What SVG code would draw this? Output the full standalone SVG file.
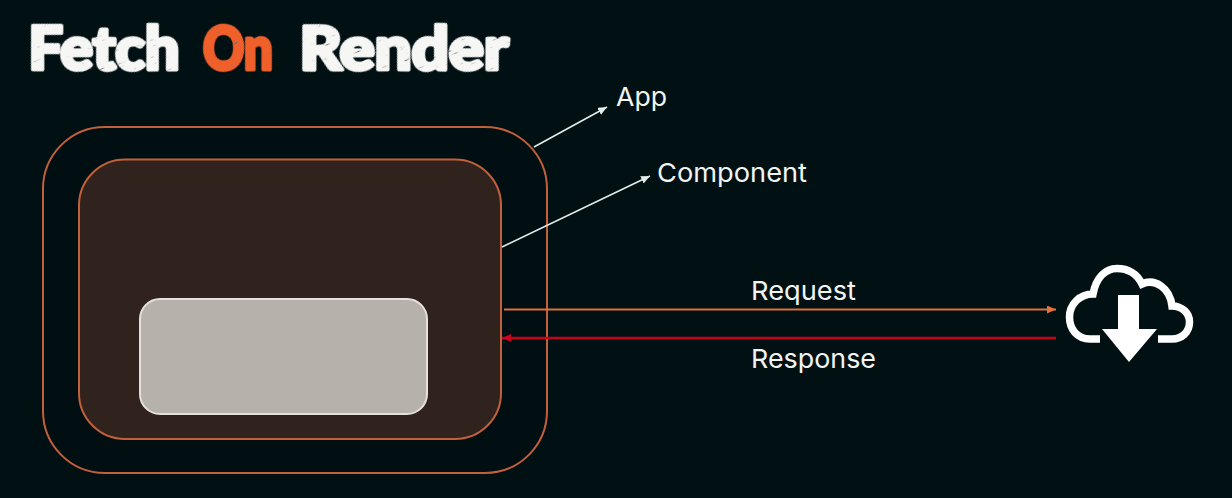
<svg xmlns="http://www.w3.org/2000/svg" width="1232" height="498" viewBox="0 0 1232 498">
<style>
.t{font-family:"Lato","Liberation Sans",sans-serif;font-weight:900;font-size:60px;stroke-width:4px;stroke-linejoin:round}
.l{font-family:"Inter","Open Sans",sans-serif;font-size:26px;fill:#f2f4f2}
.box{stroke:#c1603a;stroke-width:2}
.w{stroke:#e4ecea;stroke-width:1.6;fill:none}
</style>
<defs>
<marker id="mw" markerUnits="userSpaceOnUse" markerWidth="10" markerHeight="10" refX="9" refY="4" orient="auto"><path d="M0 0L9 4L0 8Z" fill="#e4ecea"/></marker>
<marker id="mo" markerUnits="userSpaceOnUse" markerWidth="10" markerHeight="10" refX="9" refY="4" orient="auto"><path d="M0 0L9 4L0 8Z" fill="#e8703a"/></marker>
<marker id="mr" markerUnits="userSpaceOnUse" markerWidth="12" markerHeight="10" refX="9" refY="4" orient="auto"><path d="M0 0L9 4L0 8Z" fill="#d00020"/></marker>
<filter id="grain" x="-5%" y="-20%" width="110%" height="140%">
<feTurbulence type="fractalNoise" baseFrequency="0.09 0.5" numOctaves="2" seed="4"/>
<feColorMatrix values="0 0 0 0 0.1 0 0 0 0 0.12 0 0 0 0 0.12 0 0 0 7 -5"/>
<feComposite in2="SourceGraphic" operator="in" result="s"/>
<feMerge><feMergeNode in="SourceGraphic"/><feMergeNode in="s"/></feMerge>
</filter>
</defs>
<rect id="background" width="1232" height="498" fill="#011013"/>
<g id="title" transform="rotate(-22 270 50)" filter="url(#grain)"><g transform="rotate(22 270 50)">
<text class="t" x="28.500" y="69.500" textLength="151" lengthAdjust="spacingAndGlyphs" fill="#f6f6f4" stroke="#f6f6f4">Fetch</text>
<text class="t" x="203" y="69.500" textLength="70" lengthAdjust="spacingAndGlyphs" fill="#f0602c" stroke="#f0602c">On</text>
<text class="t" x="299.500" y="69.500" textLength="209" lengthAdjust="spacingAndGlyphs" fill="#f6f6f4" stroke="#f6f6f4">Render</text>
</g></g>
<g id="app"><rect class="box" x="43" y="127" width="504" height="346" rx="62" fill="#020f12"/></g>
<g id="component"><rect class="box" x="79" y="159.500" width="422" height="279.500" rx="46" fill="#30231d"/></g>
<g id="inner"><rect x="140" y="299" width="287" height="115" rx="20" fill="#b6b1ab" stroke="#e6e0da" stroke-width="2"/></g>
<g id="connectors">
<line class="w" x1="534" y1="147" x2="607" y2="107" marker-end="url(#mw)"/>
<line class="w" x1="502" y1="247" x2="650" y2="176" marker-end="url(#mw)"/>
<line x1="504" y1="309.500" x2="1056" y2="309.500" stroke="#d9703f" stroke-width="2" marker-end="url(#mo)"/>
<line x1="1056" y1="338" x2="502" y2="338" stroke="#c8001e" stroke-width="2.600" marker-end="url(#mr)"/>
</g>
<g id="cloud">
<path d="M1100 339H1090C1077 339 1069.500 329 1069.500 317C1069.500 304 1080 294 1093 294C1096 278 1105 268.500 1117 268.500C1128 268.500 1137 274 1142 284C1155 278 1170 288 1172 306C1182 306 1189.500 313 1189.500 322C1189.500 332 1182 339 1172 339H1158" fill="none" stroke="#fff" stroke-width="7.500"/>
<path d="M1118 295H1139V329H1157L1129 362L1102 329H1118Z" fill="#fff"/>
</g>
<text id="label-app" class="l" x="616" y="106" textLength="51" lengthAdjust="spacingAndGlyphs">App</text>
<text id="label-component" class="l" x="657" y="181.500" textLength="150" lengthAdjust="spacingAndGlyphs">Component</text>
<text id="label-request" class="l" x="751" y="300" textLength="105" lengthAdjust="spacingAndGlyphs">Request</text>
<text id="label-response" class="l" x="751" y="368" textLength="125" lengthAdjust="spacingAndGlyphs">Response</text>
</svg>
